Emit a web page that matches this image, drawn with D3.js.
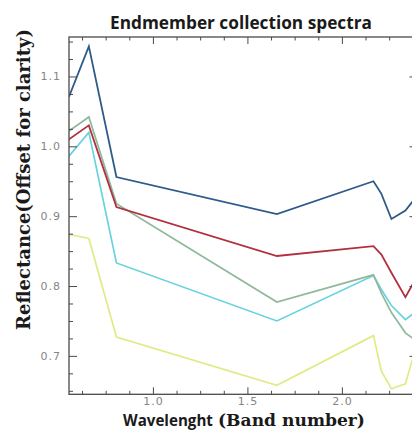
<!DOCTYPE html>
<html>
<head>
<meta charset="utf-8">
<script src="https://cdn.jsdelivr.net/npm/d3@7"></script>
<style>
  html, body { margin: 0; padding: 0; background: #fff; }
  svg { display: block; }
</style>
</head>
<body>
<svg id="chart" width="412" height="430"></svg>
<script>
// ---- data ----
const wavelengths = [0.556, 0.661, 0.807, 1.656, 2.167, 2.209, 2.262, 2.336, 2.400];
const blueSeries   = [1.071, 1.143, 0.956, 0.903, 0.950, 0.932, 0.896, 0.908, 0.930];
const redSeries    = [1.010, 1.030, 0.913, 0.843, 0.857, 0.845, 0.819, 0.784, 0.815];
const greenSeries  = [1.022, 1.042, 0.918, 0.777, 0.816, 0.790, 0.762, 0.733, 0.720];
const cyanSeries   = [0.986, 1.020, 0.833, 0.750, 0.815, 0.795, 0.772, 0.752, 0.765];
const yellowSeries = [0.874, 0.868, 0.727, 0.658, 0.729, 0.678, 0.653, 0.660, 0.720];
const xTickLabels = [1.0, 1.5, 2.0];
const yTickLabels = [0.7, 0.8, 0.9, 1.0, 1.1];
const titleText = "Endmember collection spectra";
const xLabelSans = "Wavelenght";
const xLabelSerif = "(Band number)";
const yLabelText = "Reflectance(Offset for clarity)";

const seriesList = [
  { name: "yellow", values: yellowSeries, color: "#e2ea86" },
  { name: "cyan",   values: cyanSeries,   color: "#68d2df" },
  { name: "green",  values: greenSeries,  color: "#8fb99a" },
  { name: "red",    values: redSeries,    color: "#b2313f" },
  { name: "blue",   values: blueSeries,   color: "#2e5b8a" }
];

// ---- layout ----
const svg = d3.select("#chart");
svg.append("rect").attr("width", 412).attr("height", 430).attr("fill", "#fff");

const pLeft = 69, pRight = 417.5, pTop = 37, pBottom = 394.3;
const x = d3.scaleLinear().domain([0.556, 2.4]).range([pLeft, pRight]);
const y = d3.scaleLinear().domain([0.645, 1.1565]).range([pBottom, pTop]);

const axisColor = "#4a4a4a";
const labelColor = "#858585";

// clip for lines
svg.append("clipPath").attr("id", "plotclip")
  .append("rect").attr("x", pLeft).attr("y", pTop).attr("width", pRight - pLeft).attr("height", pBottom - pTop);

const line = d3.line().x((d, i) => x(wavelengths[i])).y(d => y(d));
const lineG = svg.append("g").attr("clip-path", "url(#plotclip)");
seriesList.forEach(s => {
  lineG.append("path")
    .datum(s.values)
    .attr("d", line)
    .attr("fill", "none")
    .attr("stroke", s.color)
    .attr("stroke-width", s.name === "blue" || s.name === "red" ? 1.8 : 1.7)
    .attr("stroke-linejoin", "miter");
});

// minor tick values
const xMinor = d3.range(0.625, 2.40, 0.125).filter(v => !xTickLabels.some(t => Math.abs(t - v) < 1e-6));
const yMinor = d3.range(0.65, 1.16, 0.025).filter(v => !yTickLabels.some(t => Math.abs(t - v) < 1e-6));

function styleAxis(g) {
  g.select(".domain").remove();
  g.selectAll(".tick line").attr("stroke", axisColor).attr("stroke-width", 1);
  g.selectAll(".tick text").attr("fill", labelColor)
    .style("font-family", "'DejaVu Sans', sans-serif").style("font-size", "11px")
    .style("letter-spacing", "1px");
}

// bottom axis
svg.append("g").attr("transform", `translate(0,${pBottom})`)
  .call(d3.axisBottom(x).tickValues(xTickLabels).tickSize(-7).tickPadding(3).tickFormat(d3.format(".1f")))
  .call(styleAxis);
svg.append("g").attr("transform", `translate(0,${pBottom})`)
  .call(d3.axisBottom(x).tickValues(xMinor).tickSize(-3.5).tickFormat(""))
  .call(styleAxis);
// top axis
svg.append("g").attr("transform", `translate(0,${pTop})`)
  .call(d3.axisTop(x).tickValues(xTickLabels).tickSize(-7).tickFormat(""))
  .call(styleAxis);
svg.append("g").attr("transform", `translate(0,${pTop})`)
  .call(d3.axisTop(x).tickValues(xMinor).tickSize(-3.5).tickFormat(""))
  .call(styleAxis);
// left axis
svg.append("g").attr("transform", `translate(${pLeft},0)`)
  .call(d3.axisLeft(y).tickValues(yTickLabels).tickSize(-8).tickPadding(8).tickFormat(d3.format(".1f")))
  .call(styleAxis);
svg.append("g").attr("transform", `translate(${pLeft},0)`)
  .call(d3.axisLeft(y).tickValues(yMinor).tickSize(-4).tickFormat(""))
  .call(styleAxis);
// right axis
svg.append("g").attr("transform", `translate(${pRight},0)`)
  .call(d3.axisRight(y).tickValues(yTickLabels).tickSize(-8).tickFormat(""))
  .call(styleAxis);
svg.append("g").attr("transform", `translate(${pRight},0)`)
  .call(d3.axisRight(y).tickValues(yMinor).tickSize(-4).tickFormat(""))
  .call(styleAxis);

// frame
svg.append("rect").attr("x", pLeft).attr("y", pTop)
  .attr("width", pRight - pLeft).attr("height", pBottom - pTop)
  .attr("fill", "none").attr("stroke", axisColor).attr("stroke-width", 1.3);

// text fitting helper
function fit(sel, target) {
  const w = sel.node().getComputedTextLength();
  const fs = parseFloat(sel.style("font-size"));
  sel.style("font-size", (fs * target / w) + "px");
}

// title
const title = svg.append("text").attr("x", 241).attr("y", 29).attr("text-anchor", "middle")
  .style("font-family", "'Open Sans', sans-serif").style("font-weight", "bold")
  .style("font-size", "16px").attr("fill", "#1a1a1a").text(titleText);
fit(title, 262);

// x label
const xl1 = svg.append("text").attr("x", 123).attr("y", 426)
  .style("font-family", "'Open Sans', sans-serif").style("font-weight", "bold")
  .style("font-size", "16px").attr("fill", "#1a1a1a").text(xLabelSans);
fit(xl1, 90);
const xl2 = svg.append("text").attr("x", 218).attr("y", 426)
  .style("font-family", "'DejaVu Serif', serif").style("font-weight", "bold")
  .style("font-size", "16px").attr("fill", "#1a1a1a").text(xLabelSerif);
fit(xl2, 147);

// y label
const yl = svg.append("text").attr("transform", "translate(30,179.5) rotate(-90)")
  .attr("text-anchor", "middle")
  .style("font-family", "'DejaVu Serif', serif").style("font-weight", "bold")
  .style("font-size", "16px").attr("fill", "#1a1a1a").text(yLabelText);
fit(yl, 301);
</script>
</body>
</html>
